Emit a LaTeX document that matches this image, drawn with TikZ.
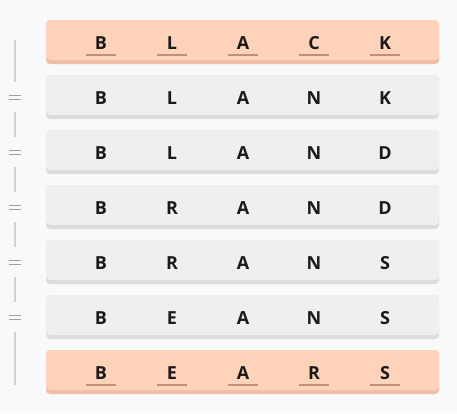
\documentclass[tikz,border=0pt]{standalone}
\usepackage{fontspec}
\setmainfont{Open Sans}
\definecolor{bg}{HTML}{F8F9FB}
\definecolor{orfill}{HTML}{FFD3B9}
\definecolor{orstrip}{HTML}{F0BEA6}
\definecolor{grfill}{HTML}{EFEFEF}
\definecolor{grstrip}{HTML}{DCDCDC}
\definecolor{uline}{HTML}{BF8F7C}
\definecolor{txt}{HTML}{1A1A1A}
\definecolor{vline}{HTML}{D2D2D2}
\definecolor{eqc}{HTML}{9E9E9E}
\begin{document}
\begin{tikzpicture}[x=1pt,y=-1pt,
  letter/.style={anchor=base,inner sep=0pt,font=\fontsize{18}{21}\selectfont\bfseries,text=txt},
  ul/.style={draw=uline,line width=2pt},
  eqsign/.style={inner sep=0pt,minimum height=30pt,minimum width=14pt},
  conn/.style={draw=vline,line width=1.4pt}]
\fill[bg] (0,0) rectangle (457,413);
\useasboundingbox (0,0) rectangle (457,413);
% rows
\foreach \r/\w/\ka/\kb [count=\i] in {
  {B,L,A,C,K}/1/orstrip/orfill,
  {B,L,A,N,K}/0/grstrip/grfill,
  {B,L,A,N,D}/0/grstrip/grfill,
  {B,R,A,N,D}/0/grstrip/grfill,
  {B,R,A,N,S}/0/grstrip/grfill,
  {B,E,A,N,S}/0/grstrip/grfill,
  {B,E,A,R,S}/1/orstrip/orfill}{
  \pgfmathsetmacro{\top}{20+55*(\i-1)}
  \fill[\ka,rounded corners=4pt] (46,\top) rectangle (439,\top+44);
  \fill[\kb,rounded corners=4pt] (46,\top) rectangle (439,\top+40);
  \foreach \l/\x [count=\j] in \r {
    \pgfmathsetmacro{\xx}{{101,172,243,314,385}[\j-1]}
    \node[letter] (r\i c\j) at (\xx,\top+29) {\l};
    \ifnum\w=1
      \draw[ul] (\xx-15,\top+34.5) -- (\xx+15,\top+34.5);
    \fi
  }
}
% left connector
\coordinate (ltop) at (15,40);
\coordinate (lbot) at (15,385);
\foreach \i in {2,...,6}{
  \node[eqsign] (eq\i) at (15,{42+55*(\i-1)}) {};
  \draw[eqc,line width=1.6pt] (9,{40.5+55*(\i-1)}) -- (21,{40.5+55*(\i-1)});
  \draw[eqc,line width=1.6pt] (9,{44.5+55*(\i-1)}) -- (21,{44.5+55*(\i-1)});
}
\draw[conn] (ltop) -- (eq2);
\draw[conn] (eq2) -- (eq3);
\draw[conn] (eq3) -- (eq4);
\draw[conn] (eq4) -- (eq5);
\draw[conn] (eq5) -- (eq6);
\draw[conn] (eq6) -- (lbot);
\end{tikzpicture}
\end{document}
